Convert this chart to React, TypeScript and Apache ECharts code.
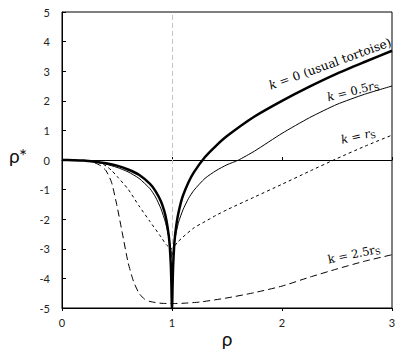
import React, { useEffect, useRef } from "react";
import * as echarts from "echarts";

// k = 0 (usual tortoise)
const rhoK0 = [0, 0.1, 0.2, 0.3, 0.4, 0.5, 0.6, 0.7, 0.8, 0.85, 0.9, 0.93, 0.95, 0.97, 0.98, 0.99, 0.995, 1.0, 1.005, 1.01, 1.02, 1.03, 1.05, 1.08, 1.1, 1.15, 1.2, 1.3, 1.4, 1.5, 1.75, 2.0, 2.25, 2.5, 2.75, 3.0];
const starK0 = [0, -0.005, -0.02, -0.06, -0.11, -0.19, -0.32, -0.5, -0.81, -1.05, -1.4, -1.73, -2.05, -2.54, -2.93, -3.6, -4.3, -5.2, -4.3, -3.6, -2.89, -2.48, -1.95, -1.45, -1.2, -0.75, -0.41, 0.1, 0.48, 0.81, 1.47, 2.0, 2.48, 2.92, 3.31, 3.69];

// k = 0.5 rS
const rhoK05 = [0, 0.2, 0.3, 0.4, 0.5, 0.6, 0.7, 0.8, 0.85, 0.9, 0.94, 0.97, 0.99, 1.0, 1.01, 1.03, 1.06, 1.1, 1.15, 1.2, 1.3, 1.4, 1.5, 1.6, 1.75, 2.0, 2.25, 2.5, 2.75, 3.0];
const starK05 = [0, -0.025, -0.07, -0.14, -0.25, -0.4, -0.62, -0.97, -1.25, -1.65, -2.1, -2.6, -3.05, -3.3, -3.05, -2.6, -2.1, -1.68, -1.3, -1.02, -0.62, -0.36, -0.16, -0.01, 0.3, 0.9, 1.43, 1.88, 2.22, 2.5];

// k = rS
const rhoK1 = [0, 0.2, 0.3, 0.35, 0.4, 0.45, 0.5, 0.6, 0.7, 0.8, 0.9, 0.95, 1.0, 1.02, 1.05, 1.1, 1.2, 1.3, 1.4, 1.5, 1.75, 2.0, 2.25, 2.5, 2.75, 3.0];
const starK1 = [0, -0.02, -0.05, -0.1, -0.2, -0.35, -0.55, -0.98, -1.55, -2.08, -2.6, -2.87, -3.0, -2.92, -2.78, -2.6, -2.29, -2.08, -1.87, -1.68, -1.25, -0.82, -0.38, 0.05, 0.46, 0.84];

// k = 2.5 rS
const rhoK25 = [0, 0.2, 0.25, 0.3, 0.35, 0.4, 0.45, 0.5, 0.55, 0.6, 0.65, 0.7, 0.75, 0.8, 0.9, 1.0, 1.1, 1.25, 1.5, 1.75, 2.0, 2.25, 2.5, 2.75, 3.0];
const starK25 = [0, -0.02, -0.05, -0.1, -0.19, -0.36, -0.75, -1.55, -2.5, -3.45, -4.1, -4.5, -4.7, -4.78, -4.84, -4.85, -4.84, -4.8, -4.66, -4.48, -4.26, -3.96, -3.68, -3.42, -3.2];

const xTicks = [0, 1, 2, 3];
const yTicks = [-5, -4, -3, -2, -1, 0, 1, 2, 3, 4, 5];

const pairs = (xs: number[], ys: number[]) => xs.map((x, i) => [x, ys[i]]);

const tickFont = "Lato, 'Open Sans', sans-serif";
const serif = "'DejaVu Serif'";

const makeRich = (size: number) => ({
  i: { font: `italic ${size}px ${serif}`, fill: "#000" },
  n: { font: `${size}px ${serif}`, fill: "#000" },
  s: { font: `${Math.round(size * 0.7)}px ${serif}`, fill: "#000", padding: [6, 0, 0, 0] },
});

const deg = (d: number) => (d * Math.PI) / 180;

const labelStyle = (text: string, size: number) => ({
  text,
  rich: makeRich(size),
  font: `${size}px ${serif}`,
  fill: "#000",
  align: "center",
  verticalAlign: "middle",
});

export default function App() {
  const ref = useRef<HTMLDivElement>(null);
  useEffect(() => {
    if (!ref.current) return;
    const chart = echarts.init(ref.current, null, { renderer: "svg" });
    const baseX = {
      type: "value" as const,
      min: xTicks[0],
      max: xTicks[xTicks.length - 1],
      interval: 1,
      splitLine: { show: false },
    };
    chart.setOption({
      animation: false,
      grid: {
        left: 62,
        top: 12,
        right: 11,
        bottom: 48,
        show: true,
        borderColor: "#000",
        borderWidth: 1,
      },
      xAxis: [
        {
          ...baseX,
          position: "bottom",
          axisLine: { show: true, onZero: false, lineStyle: { color: "#000", width: 1 } },
          axisTick: { show: false },
          axisLabel: { fontSize: 11, fontFamily: tickFont, color: "#222", margin: 9 },
        },
        {
          ...baseX,
          position: "bottom",
          axisLine: { show: true, onZero: true, lineStyle: { color: "#000", width: 1 } },
          axisTick: { show: true, inside: true, length: 3, lineStyle: { color: "#000" } },
          axisLabel: { show: false },
        },
        {
          ...baseX,
          position: "bottom",
          axisLine: { show: false, onZero: true },
          axisTick: { show: true, inside: false, length: 3, lineStyle: { color: "#000" } },
          axisLabel: { show: false },
        },
      ],
      yAxis: {
        type: "value",
        min: yTicks[0],
        max: yTicks[yTicks.length - 1],
        interval: 1,
        splitLine: { show: false },
        axisLine: { show: true, onZero: false, lineStyle: { color: "#000", width: 1 } },
        axisTick: { show: true, inside: true, length: 4, lineStyle: { color: "#000" } },
        axisLabel: { fontSize: 11, fontFamily: tickFont, color: "#222", margin: 12 },
      },
      graphic: [
        {
          type: "text",
          x: 18,
          y: 155,
          style: { text: "ρ*", font: "19px Lato", fill: "#111", align: "center", verticalAlign: "middle" },
        },
        {
          type: "text",
          x: 227,
          y: 338,
          style: { text: "ρ", font: "19px Lato", fill: "#111", align: "center", verticalAlign: "middle" },
        },
        {
          type: "text",
          x: 330,
          y: 64,
          rotation: deg(20),
          style: labelStyle("{i|k}{n| = 0 (usual tortoise)}", 12),
        },
        {
          type: "text",
          x: 353,
          y: 91,
          rotation: deg(14),
          style: labelStyle("{i|k}{n| = 0.5}{i|r}{s|S}", 11.5),
        },
        {
          type: "text",
          x: 358,
          y: 136,
          rotation: deg(13),
          style: labelStyle("{i|k}{n| = }{i|r}{s|S}", 11.5),
        },
        {
          type: "text",
          x: 354,
          y: 254,
          rotation: deg(12),
          style: labelStyle("{n|k = 2.5r}{s|S}", 11.5),
        },
      ],
      series: [
        {
          type: "line",
          name: "k0",
          data: pairs(rhoK0, starK0),
          showSymbol: false,
          smooth: 0.2,
          lineStyle: { color: "#000", width: 2.5 },
          markLine: {
            silent: true,
            symbol: ["none", "none"],
            label: { show: false },
            lineStyle: { color: "#c4c4c4", type: [5, 3], width: 1 },
            data: [{ xAxis: 1 }],
          },
          z: 5,
        },
        {
          type: "line",
          name: "k05",
          data: pairs(rhoK05, starK05),
          showSymbol: false,
          smooth: 0.2,
          lineStyle: { color: "#000", width: 1 },
        },
        {
          type: "line",
          name: "k1",
          data: pairs(rhoK1, starK1),
          showSymbol: false,
          smooth: 0.2,
          lineStyle: { color: "#000", width: 1, type: [3, 3] },
        },
        {
          type: "line",
          name: "k25",
          data: pairs(rhoK25, starK25),
          showSymbol: false,
          smooth: 0.2,
          lineStyle: { color: "#000", width: 1, type: [7, 4] },
        },
      ],
    });
    return () => chart.dispose();
  }, []);
  return (
    <div
      ref={ref}
      style={{ position: "absolute", left: 0, top: 0, width: 403, height: 356, background: "#fff" }}
    />
  );
}
